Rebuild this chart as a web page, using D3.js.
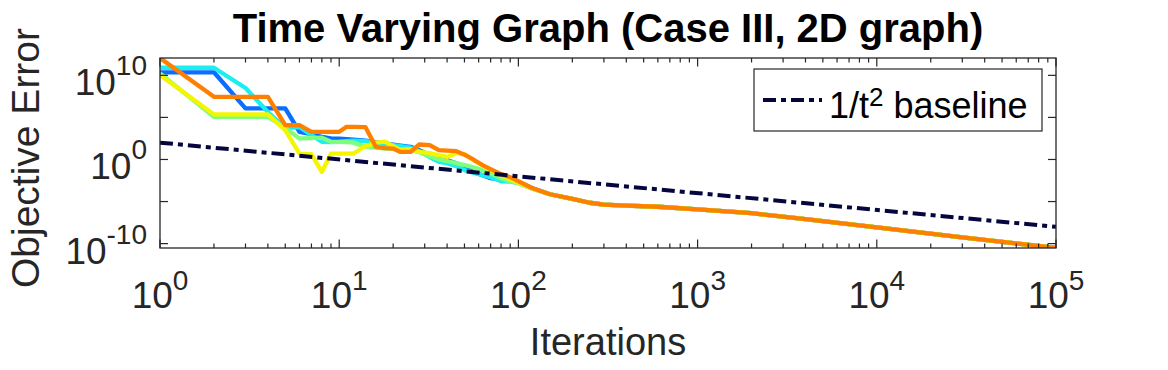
<!DOCTYPE html>
<html>
<head>
  <meta charset="utf-8">
  <title>Time Varying Graph</title>
  <style>
    body { margin: 0; background: #fff; }
    svg { font-family: "Liberation Sans", Arial, sans-serif; }
    .axis-line { stroke: #262626; stroke-width: 1.3; fill: none; }
    .tick { stroke: #262626; stroke-width: 1.2; }
    .tlabel { fill: #262626; font-size: 37px; }
  </style>
  <script src="https://d3js.org/d3.v7.min.js"></script>
</head>
<body>
<script>
  // iterations sampled for the noisy early part
  var iters = [1, 2, 3, 4, 5, 6, 7, 8, 9, 10, 11, 12, 14, 16, 18, 20, 22, 25, 28, 32,
               36, 40, 45, 50, 56, 63, 70, 80, 90, 100, 120, 150];

  // objective error (one value per iteration above)
  var blueVals = [2.3e10, 2.3e10, 1.2e6, 1.2e6, 1.2e6, 1.9e3, 1e3, 4.9e2, 3.2e2, 3e2, 2.6e2, 2.3e2, 1.7e2,
                  1.15e2, 80, 58, 44, 32, 12.6, 3.2, 1.4, 0.83, 0.36, 0.12, 0.033, 0.0135, 5.9e-3, 4e-3,
                  3e-3, 2e-3, 3.8e-4, 7.4e-5];
  var cyanVals = [8e10, 8e10, 3.1e8, 4.3e5, 5.4e3, 7.1e3, 7.8e2, 1.26e2, 1.15e2, 1.26e2, 1.5e2, 1.7e2, 1.5e2,
                  1e2, 66, 50, 38, 25, 9.8, 1.86, 0.51, 0.36, 0.16, 0.054, 0.027, 0.0135, 7.9e-3, 2.6e-3,
                  2.3e-3, 1.5e-3, 3.3e-4, 7.4e-5];
  var greenVals = [1.7e10, 1.2e5, 1.2e5, 1.2e5, 5.4e3, 3.2e2, 3.5e2, 4e2, 1.26e2, 1.26e2, 1.15e2, 1e2, 32,
                   25, 20, 19.5, 15.5, 12.6, 7.4, 2.5, 1, 0.63, 0.36, 0.21, 0.12, 0.054, 0.023, 5.9e-3,
                   2.6e-3, 1.5e-3, 3.3e-4, 7.4e-5];
  var yellowVals = [1.1e10, 2.3e5, 2.3e5, 2.3e5, 3.1e3, 5.1, 4.3, 0.033, 5.1, 5.1, 5.1, 5.1, 38,
                    1e2, 1.3e2, 38, 12.6, 17, 7.9, 5.6, 3.2, 2, 5.6, 4.3, 0.83, 0.21, 0.054, 0.0135,
                    4.5e-3, 1.7e-3, 3.3e-4, 7.4e-5];
  var orangeVals = [1.15e12, 2.8e7, 2.8e7, 2.8e7, 1.2e4, 1.2e4, 1.95e3, 1.95e3, 1.95e3, 1.95e3, 7.6e3, 7.6e3, 7.1e3,
                    32, 22, 20, 7.9, 7.9, 60, 50, 12.6, 11.2, 9.8, 3.7, 1, 0.21, 0.071, 0.018,
                    7.9e-3, 2.6e-3, 3.8e-4, 7.4e-5];

  // shared tail, all runs coincide after ~150 iterations
  var tailIters = [150, 200, 250, 300, 400, 600, 1000, 2000, 4000, 10000, 30000, 100000];
  var tailVals = [7.4e-5, 2.1e-5, 7.2e-6, 4.4e-6, 3.3e-6, 2.4e-6, 1.2e-6, 4.1e-7, 8.3e-8, 8.7e-9, 5.6e-10, 3e-11];

  // 1/t^2 reference line, end points
  var baselineIters = [1, 100000];
  var baselineVals = [1e2, 1e-8];

  var seriesColors = ["#0a6eff", "#19eef0", "#7dff7d", "#f5f500", "#ff8000"];
  var seriesVals = [blueVals, cyanVals, greenVals, yellowVals, orangeVals];

  var xTicks = [1, 10, 100, 1000, 10000, 100000];
  var xTickExp = ["0", "1", "2", "3", "4", "5"];
  var yTicks = [1e-10, 1e-5, 1, 1e5, 1e10];
  var yLabelTicks = [1e-10, 1, 1e10];
  var yTickExp = ["-10", "0", "10"];

  var width = 1168, height = 370;
  // plot box (window.top is read-only, so own names)
  var pL = 160, pR = 1056, pT = 58, pB = 248;

  var svg = d3.select("body").append("svg")
    .attr("width", width).attr("height", height);

  var x = d3.scaleLog().domain([1, 1e5]).range([pL, pR]);
  var y = d3.scaleLog().domain([Math.pow(10, -10.52), Math.pow(10, 12.06)]).range([pB, pT]);

  svg.append("clipPath").attr("id", "clip")
    .append("rect").attr("x", pL).attr("y", pT)
    .attr("width", pR - pL).attr("height", pB - pT);

  var line = d3.line().x(d => x(d[0])).y(d => y(d[1]));

  var plot = svg.append("g").attr("clip-path", "url(#clip)");

  seriesVals.forEach(function(vals, i) {
    var pts = iters.map((t, j) => [t, vals[j]])
      .concat(tailIters.slice(1).map((t, j) => [t, tailVals[j + 1]]));
    plot.append("path")
      .attr("d", line(pts))
      .attr("fill", "none")
      .attr("stroke", seriesColors[i])
      .attr("stroke-width", 4.3)
      .attr("stroke-linejoin", "round");
  });

  plot.append("path")
    .attr("d", line(baselineIters.map((t, j) => [t, baselineVals[j]])))
    .attr("fill", "none")
    .attr("stroke", "#06063f")
    .attr("stroke-width", 4)
    .attr("stroke-dasharray", "13,5,5,5");

  // box
  svg.append("rect").attr("class", "axis-line")
    .attr("x", pL).attr("y", pT)
    .attr("width", pR - pL).attr("height", pB - pT);

  // x ticks (major + minor), bottom and top, inward
  var xMinor = [];
  for (var k = 0; k < 5; k++) for (var m = 2; m <= 9; m++) xMinor.push(m * Math.pow(10, k));
  var tk = svg.append("g");
  xTicks.forEach(function(t) {
    tk.append("line").attr("class", "tick").attr("x1", x(t)).attr("x2", x(t)).attr("y1", pB).attr("y2", pB - 8.5);
    tk.append("line").attr("class", "tick").attr("x1", x(t)).attr("x2", x(t)).attr("y1", pT).attr("y2", pT + 8.5);
  });
  xMinor.forEach(function(t) {
    tk.append("line").attr("class", "tick").attr("x1", x(t)).attr("x2", x(t)).attr("y1", pB).attr("y2", pB - 4.5);
    tk.append("line").attr("class", "tick").attr("x1", x(t)).attr("x2", x(t)).attr("y1", pT).attr("y2", pT + 4.5);
  });
  yTicks.forEach(function(v) {
    tk.append("line").attr("class", "tick").attr("x1", pL).attr("x2", pL + 8).attr("y1", y(v)).attr("y2", y(v));
    tk.append("line").attr("class", "tick").attr("x1", pR).attr("x2", pR - 8).attr("y1", y(v)).attr("y2", y(v));
  });

  // tick labels
  xTicks.forEach(function(t, i) {
    var txt = svg.append("text").attr("class", "tlabel")
      .attr("x", x(t)).attr("y", pB + 60).attr("text-anchor", "middle");
    txt.append("tspan").text("10");
    txt.append("tspan").attr("dy", -18).attr("font-size", 28).text(xTickExp[i]);
  });
  yLabelTicks.forEach(function(v, i) {
    var txt = svg.append("text").attr("class", "tlabel")
      .attr("x", 147).attr("y", y(v) + 20).attr("text-anchor", "end");
    txt.append("tspan").text("10");
    txt.append("tspan").attr("dy", -20).attr("font-size", 28).text(yTickExp[i]);
  });

  // axis titles
  svg.append("text").attr("class", "tlabel")
    .attr("x", (pL + pR) / 2).attr("y", 355).attr("text-anchor", "middle")
    .style("font-size", "38px")
    .text("Iterations");
  svg.append("text").attr("class", "tlabel")
    .attr("transform", "translate(39,158) rotate(-90)")
    .attr("text-anchor", "middle")
    .style("font-size", "39px")
    .text("Objective Error");

  svg.append("text")
    .attr("x", (pL + pR) / 2).attr("y", 42).attr("text-anchor", "middle")
    .attr("font-size", 40).attr("font-weight", "bold").attr("fill", "#000")
    .text("Time Varying Graph (Case III, 2D graph)");

  // legend
  var lg = svg.append("g");
  lg.append("rect").attr("x", 754).attr("y", 69).attr("width", 288).attr("height", 62)
    .attr("fill", "#fff").attr("stroke", "#262626").attr("stroke-width", 1.2);
  lg.append("line").attr("x1", 763).attr("x2", 822).attr("y1", 100).attr("y2", 100)
    .attr("stroke", "#06063f").attr("stroke-width", 4).attr("stroke-dasharray", "13,5,5,5");
  var lt = lg.append("text").attr("x", 829).attr("y", 118).attr("font-size", 36).attr("fill", "#000");
  lt.append("tspan").text("1/t");
  lt.append("tspan").attr("dy", -12).attr("font-size", 26).text("2");
  lt.append("tspan").attr("dy", 12).text(" baseline");
</script>
</body>
</html>
